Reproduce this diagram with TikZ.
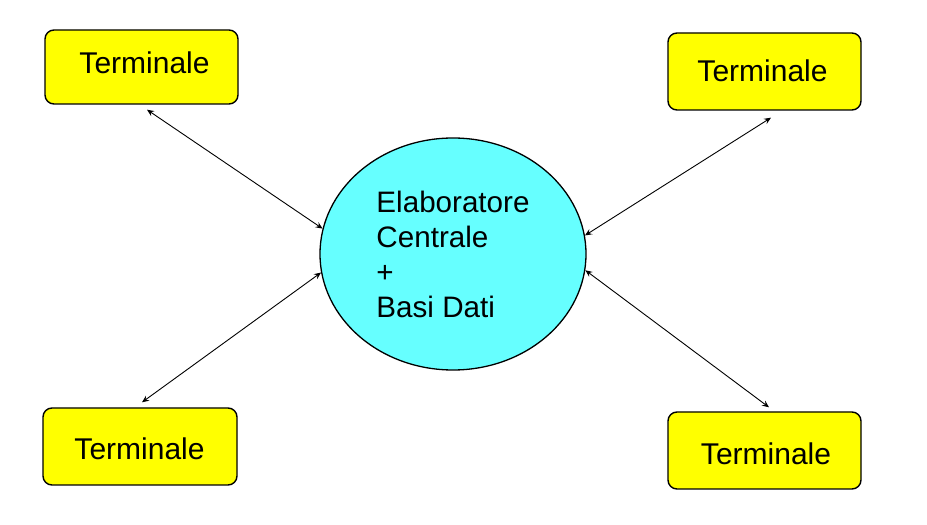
\documentclass[tikz,border=0pt]{standalone}
\usepackage{fontspec}
\setmainfont{Liberation Sans}
\usetikzlibrary{arrows.meta,shapes.geometric}
\definecolor{termyellow}{RGB}{255,255,0}
\definecolor{hostcyan}{RGB}{102,255,255}
\tikzset{
  terminal/.style 2 args={draw=black,line width=1.4pt,fill=termyellow,rounded corners=9pt,
    minimum width=193pt,minimum height=76pt,inner sep=0pt,
    label={[inner sep=0pt,xshift=#1pt,yshift=#2pt,font=\fontsize{30}{36}\selectfont]center:Terminale}},
  host/.style={ellipse,draw=black,line width=1.3pt,fill=hostcyan,
    minimum width=266pt,minimum height=232pt,inner sep=0pt,align=left,
    font=\fontsize{29.6}{35}\selectfont},
  link/.style={line width=0.9pt,{Stealth[length=7pt,width=6pt,inset=2.5pt]}-{Stealth[length=7pt,width=6pt,inset=2.5pt]}}
}
\begin{document}
\begin{tikzpicture}[x=1pt,y=1pt]
\useasboundingbox (0,0) rectangle (927,525);
\node[terminal={3}{4.5},minimum height=74pt] (tl) at (141.5,458) {};
\node[terminal={-2}{0.5},minimum height=77pt] (tr) at (764.5,453.5) {};
\node[terminal={-0.5}{-2},minimum height=77pt,minimum width=194pt] (bl) at (140,78.5) {};
\node[terminal={1.5}{-3},minimum height=77pt] (br) at (764.5,74.5) {};
\node[host] (c) at (453,271) {Elaboratore\\Centrale\\+\\Basi Dati};
\draw[link] ([xshift=5.5pt,yshift=-5pt]tl.south) -- (c.169.5);
\draw[link] ([xshift=6.5pt,yshift=-7pt]tr.south) -- (c.8);
\draw[link] ([xshift=2pt,yshift=5pt]bl.north) -- (c.188);
\draw[link] ([xshift=4.5pt,yshift=4pt]br.north) -- (c.-7);
\end{tikzpicture}
\end{document}
